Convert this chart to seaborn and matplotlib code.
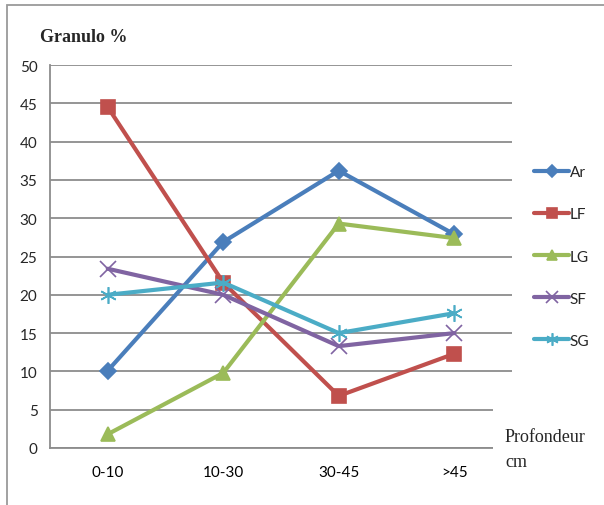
import matplotlib
matplotlib.use("Agg")
import matplotlib.pyplot as plt
import seaborn as sns
import pandas as pd
from matplotlib.patches import Rectangle

# Grain-size fractions (%) by soil depth
depths = ["0-10", "10-30", "30-45", ">45"]
ar = [10.1, 26.9, 36.2, 27.9]
lf = [44.5, 21.6, 6.8, 12.3]
lg = [1.8, 9.8, 29.3, 27.4]
sf = [23.4, 20.0, 13.3, 15.0]
sg = [20.0, 21.6, 15.0, 17.6]

series = {"Ar": ar, "LF": lf, "LG": lg, "SF": sf, "SG": sg}
colors = {"Ar": "#4A7EBB", "LF": "#C0504D", "LG": "#9BBB59",
          "SF": "#8064A2", "SG": "#4BACC6"}
markers = {"Ar": "D", "LF": "s", "LG": "^", "SF": "x", "SG": (6, 2, 0)}
msizes = {"Ar": 8, "LF": 10, "LG": 10, "SF": 11, "SG": 12}

rows = []
for name, vals in series.items():
    for i, v in enumerate(vals):
        rows.append({"pos": i, "depth": depths[i], "value": v, "serie": name})
df = pd.DataFrame(rows)

sns.set_theme(style="white")
plt.rcParams["font.family"] = ["Lato", "DejaVu Sans"]

fig = plt.figure(figsize=(6.04, 5.06), dpi=100)
W, H = 604, 506
ax = fig.add_axes([50 / W, (H - 449) / H, (512 - 50) / W, (449 - 66) / H])

for name in series:
    sub = df[df["serie"] == name]
    sns.lineplot(data=sub, x="pos", y="value", ax=ax, color=colors[name],
                 linewidth=3.0, marker=markers[name], markersize=msizes[name],
                 markeredgecolor=colors[name], markeredgewidth=1.2,
                 label=name, zorder=3)

ax.set_xlim(-0.5, 3.5)
ax.set_ylim(0, 50)
ax.set_yticks(range(0, 51, 5))
ax.set_xticks(range(len(depths)))
ax.set_xticklabels(depths)
ax.set_xticks([-0.5, 0.5, 1.5, 2.5, 3.5], minor=True)
ax.tick_params(axis="x", which="major", length=0, pad=12, labelsize=11, colors="#000000")
ax.tick_params(axis="x", which="minor", length=5, width=1.2, color="#8c8c8c", direction="out")
ax.tick_params(axis="y", which="major", length=5, width=1.2, color="#8c8c8c",
               direction="out", labelsize=11, pad=4)
ax.set_xlabel("")
ax.set_ylabel("")
ax.yaxis.grid(True, color="#8c8c8c", linewidth=1.3)
ax.set_axisbelow(True)
for s in ["top", "right"]:
    ax.spines[s].set_visible(False)
for s in ["left", "bottom"]:
    ax.spines[s].set_color("#8c8c8c")
    ax.spines[s].set_linewidth(1.3)

leg = ax.legend(loc="center left", bbox_to_anchor=(534 / W, (H - 257.5) / H),
                bbox_transform=fig.transFigure, frameon=False, fontsize=11,
                handlelength=2.3, handletextpad=0.05, labelspacing=1.84,
                borderaxespad=0, borderpad=0, markerscale=0.75)

fig.text(40 / W, (H - 37) / H, "Granulo %", fontsize=13, fontweight="bold",
         family=["Liberation Serif"], va="center", ha="left")

# white box behind the axis title at the lower right
fig.patches.append(Rectangle((493 / W, (H - 478) / H), (W - 493) / W, 72 / H,
                             transform=fig.transFigure, facecolor="white",
                             edgecolor="none", zorder=5))
fig.text(505 / W, (H - 450) / H, "Profondeur\ncm", fontsize=13,
         family=["Liberation Serif"], va="center", ha="left", linespacing=1.65,
         zorder=6)

# outer chart frame
fig.patches.append(Rectangle((7 / W, -0.1), 1.2, (H - 6) / H + 0.1,
                             transform=fig.transFigure, fill=False,
                             edgecolor="#9a9a9a", linewidth=1.3))

fig.savefig("out.png", dpi=100)
